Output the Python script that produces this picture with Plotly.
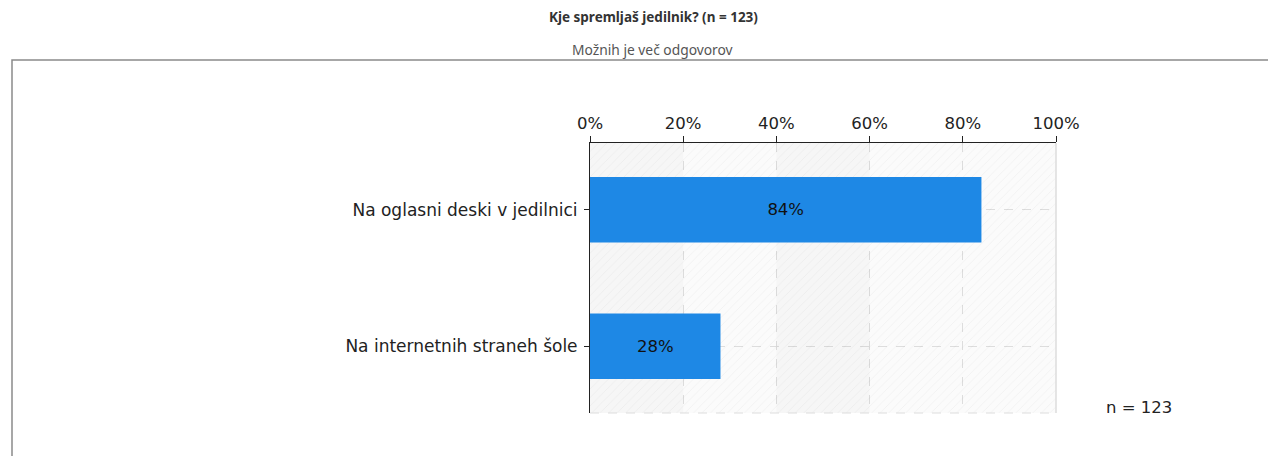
import plotly.graph_objects as go

categories = ["Na oglasni deski v jedilnici", "Na internetnih straneh šole"]
values = [84, 28]
value_labels = ["84%", "28%"]
tick_values = [0, 20, 40, 60, 80, 100]
tick_labels = ["0%", "20%", "40%", "60%", "80%", "100%"]
band_starts = [0, 20, 40, 60, 80]
band_shaded = [True, False, True, False, False]
title_text = "Kje spremljaš jedilnik? (n = 123)"
subtitle_text = "Možnih je več odgovorov"
n_text = "n = 123"

# the page body has an 8px margin, so the figure is drawn 8px in from the corner
OFF = 8
W, H = 1276 - OFF, 456 - OFF
L, T = 590 - OFF, 143 - OFF
R = W - (1056 - OFF)
B = H - (413 - OFF)
pw, ph = W - L - R, H - T - B

def px_x(px):
    return (px - OFF - L) / pw

def px_y(py):
    return (H - B - (py - OFF)) / ph

FS = 16.5

fig = go.Figure()

# hatched background bands
for start, shaded in zip(band_starts, band_shaded):
    bg = "rgba(0,0,0,0.02)" if shaded else "rgba(0,0,0,0)"
    fig.add_trace(go.Bar(
        y=[0.5], x=[20], base=[start], width=[2.2], orientation="h",
        marker=dict(color=bg, line=dict(width=0),
                    pattern=dict(shape="/", fgcolor="rgba(0,0,0,0.035)", bgcolor=bg,
                                 size=6, solidity=0.15, fillmode="replace")),
        hoverinfo="skip", showlegend=False,
    ))

ypos = list(range(len(categories)))
fig.add_trace(go.Bar(
    y=ypos, x=values, orientation="h", width=0.48,
    marker=dict(color="#1e88e5", line=dict(width=0)),
    text=value_labels, textposition="inside", insidetextanchor="middle",
    textfont=dict(family="DejaVu Sans", size=FS, color="#111"),
    hoverinfo="skip", showlegend=False,
))

fig.update_layout(
    width=W, height=H, barmode="overlay",
    margin=dict(l=L, r=R, t=T, b=B, autoexpand=False),
    paper_bgcolor="white", plot_bgcolor="#fbfbfb",
    font=dict(family="DejaVu Sans", size=FS, color="#222"),
    xaxis=dict(side="top", range=[0, 100], tickvals=tick_values, ticktext=tick_labels,
               showline=True, linecolor="#222", linewidth=1,
               ticks="outside", ticklen=6, tickcolor="#222",
               showgrid=True, gridcolor="#dddddd", griddash="dash", gridwidth=1,
               zeroline=False, tickfont=dict(family="DejaVu Sans", size=FS, color="#222"),
               fixedrange=True),
    yaxis=dict(range=[1.49, -0.49], tickvals=ypos, ticktext=categories,
               showline=True, linecolor="#222", linewidth=1,
               ticks="outside", ticklen=5, tickcolor="#222", ticklabelstandoff=3,
               showgrid=True, gridcolor="#dddddd", griddash="dash", gridwidth=1,
               zeroline=False, tickfont=dict(family="DejaVu Sans", size=17, color="#222"),
               fixedrange=True),
    shapes=[
        dict(type="rect", xref="paper", yref="paper",
             x0=px_x(12), x1=px_x(1300), y0=px_y(60), y1=px_y(480),
             line=dict(color="#8a8a8a", width=1.5), fillcolor="rgba(0,0,0,0)", layer="below"),
        dict(type="line", xref="paper", yref="paper", x0=1, x1=1, y0=0, y1=1,
             line=dict(color="#dddddd", width=1.5)),
        dict(type="line", xref="paper", yref="paper", x0=0, x1=1, y0=0, y1=0,
             line=dict(color="#dddddd", width=1, dash="dash")),
    ],
    annotations=[
        dict(text="<b>" + title_text + "</b>", xref="paper", yref="paper",
             x=px_x(653), y=px_y(17), xanchor="center", yanchor="middle", showarrow=False,
             font=dict(family="Noto Sans", size=13.5, color="#333")),
        dict(text=subtitle_text, xref="paper", yref="paper",
             x=px_x(653), y=px_y(49), xanchor="center", yanchor="middle", showarrow=False,
             font=dict(family="Noto Sans", size=13.8, color="#555")),
        dict(text=n_text, xref="paper", yref="paper",
             x=px_x(1139), y=px_y(407), xanchor="center", yanchor="middle", showarrow=False,
             font=dict(family="DejaVu Sans", size=FS, color="#222")),
    ],
)

fig.write_html("out.html")
